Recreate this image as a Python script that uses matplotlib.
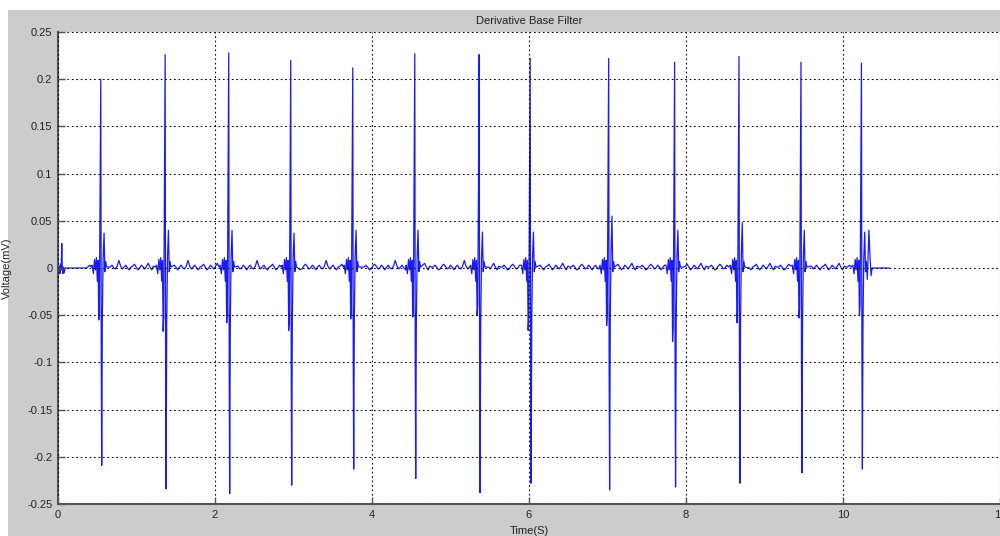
import numpy as np
import matplotlib
matplotlib.use("Agg")
import matplotlib.pyplot as plt
from matplotlib.patches import Rectangle

# ---------------- data ----------------
beat_times = [0.545, 1.365, 2.175, 2.965, 3.755, 4.545, 5.365, 6.015, 7.015, 7.855, 8.675, 9.465, 10.235]
pos_peaks = [0.200, 0.226, 0.228, 0.220, 0.212, 0.227, 0.226, 0.222, 0.222, 0.218, 0.224, 0.218, 0.217]
neg_peaks = [-0.209, -0.234, -0.239, -0.230, -0.213, -0.223, -0.238, -0.228, -0.235, -0.232, -0.228, -0.217, -0.213]
pre_dips = [-0.055, -0.067, -0.058, -0.066, -0.054, -0.052, -0.050, -0.066, -0.061, -0.078, -0.058, -0.053, -0.050]
post_bumps = [0.037, 0.040, 0.040, 0.037, 0.040, 0.040, 0.038, 0.038, 0.055, 0.040, 0.048, 0.040, 0.038]

# QRS-complex sample offsets (s) and the small values around the big samples
qrs_offsets = [-0.110, -0.094, -0.080, -0.068, -0.056, -0.044, -0.034, -0.026,
               -0.018, -0.006, 0.0, 0.006, 0.012, 0.020, 0.030, 0.042, 0.052, 0.062, 0.074]
qrs_small = [0.003, -0.006, 0.009, -0.002, 0.011, -0.014, 0.008, None,
             None, None, None, None, None, None, None, None, -0.004, 0.007, 0.001]

# baseline ripple between complexes (one period, 22 ms spacing)
ripple_step = 0.022
ripple = [0.001, 0.003, 0.001, -0.002, -0.001, 0.002, 0.004, 0.002, -0.001, 0.000,
          0.003, 0.001, -0.002, 0.001, 0.003, 0.000, -0.001, 0.002, 0.008, 0.002,
          -0.001, 0.001, 0.003, 0.000, -0.002, 0.001, 0.002, 0.004, 0.001, -0.002,
          0.000, 0.003, 0.001, -0.001, 0.002, 0.005, 0.001, -0.002, 0.002, 0.001]

# start of the record and its tail
start_t = [0.000, 0.008, 0.016, 0.024, 0.032, 0.040, 0.048, 0.054, 0.062, 0.070, 0.080, 0.090, 0.100, 0.360]
start_v = [0.000, -0.004, 0.002, -0.006, 0.004, -0.002, 0.026, 0.002, -0.006, 0.001, -0.005, 0.000, 0.000, 0.000]
tail_t = [10.310, 10.330, 10.345, 10.358, 10.370, 10.590]
tail_v = [-0.012, 0.040, 0.010, -0.008, 0.000, 0.000]

yticks = [-0.25, -0.2, -0.15, -0.1, -0.05, 0, 0.05, 0.1, 0.15, 0.2, 0.25]
ytick_labels = ["-0.25", "-0.2", "-0.15", "-0.1", "-0.05", "0", "0.05", "0.1", "0.15", "0.2", "0.25"]
xticks = [0, 2, 4, 6, 8, 10, 12]
xtick_labels = ["0", "2", "4", "6", "8", "10", "12"]

# ---------------- assemble the trace ----------------
pts = list(zip(start_t, start_v))
for bt, p, n, d, b in zip(beat_times, pos_peaks, neg_peaks, pre_dips, post_bumps):
    big = {-0.026: d, -0.018: 0.8 * d, -0.006: 0.55 * p, 0.0: p, 0.006: 0.45 * n,
           0.012: n, 0.020: 0.25 * n, 0.030: 0.3 * b, 0.042: b}
    for off, sv in zip(qrs_offsets, qrs_small):
        v = big[off] if sv is None else sv
        pts.append((bt + off, v))
n_r = len(ripple)
k = 0
t = 0.38
while t < beat_times[-1] - 0.1:
    if all(abs(t - bt) > 0.115 and not (0 < t - bt < 0.085) for bt in beat_times):
        pts.append((t, ripple[k % n_r]))
    k += 1
    t += ripple_step
pts = [pp for pp in pts if pp[0] < 10.30]
pts += list(zip(tail_t, tail_v))
pts.sort(key=lambda q: q[0])
tt = [q[0] for q in pts]
vv = [q[1] for q in pts]

# ---------------- figure ----------------
plt.rcParams['font.family'] = ['Liberation Sans', 'DejaVu Sans']
fig = plt.figure(figsize=(10, 5.36), dpi=100)
fig.patch.set_facecolor('#cccccc')
fig.patches.append(Rectangle((0, 1 - 10 / 536), 1, 10 / 536, transform=fig.transFigure,
                             facecolor='white', edgecolor='none', zorder=-5))
fig.patches.append(Rectangle((0, 0), 0.008, 1, transform=fig.transFigure,
                             facecolor='white', edgecolor='none', zorder=-5))

ax = fig.add_axes([0.058, 32 / 536, 0.942, 472 / 536])
ax.set_facecolor('white')
ax.plot(tt, vv, color='#1a1aff', lw=0.9, zorder=2)

ax.set_xlim(0, 12)
ax.set_ylim(-0.25, 0.25)
ax.set_xticks(xticks)
ax.set_xticklabels(xtick_labels)
ax.set_yticks(yticks)
ax.set_yticklabels(ytick_labels)

ax.grid(True, color='black', linestyle=(0, (1.5, 2.5)), linewidth=0.8)
ax.set_axisbelow(False)

for s in ['top', 'right']:
    ax.spines[s].set_visible(False)
for s in ['left', 'bottom']:
    ax.spines[s].set_color('#555555')
    ax.spines[s].set_linewidth(1.5)

ax.tick_params(direction='in', length=5, width=1, color='#555555',
               labelsize=8, labelcolor='#222222', pad=4)

ax.set_title('Derivative Base Filter', fontsize=8, color='#222222', pad=6)
ax.set_xlabel('Time(S)', fontsize=8, color='#222222')
ax.set_ylabel('Voltage(mV)', fontsize=8, color='#222222')
ax.xaxis.set_label_coords(0.5, -0.046)
ax.yaxis.set_label_coords(-0.049, 0.5)

fig.savefig('out.png', dpi=100, facecolor=fig.get_facecolor())
